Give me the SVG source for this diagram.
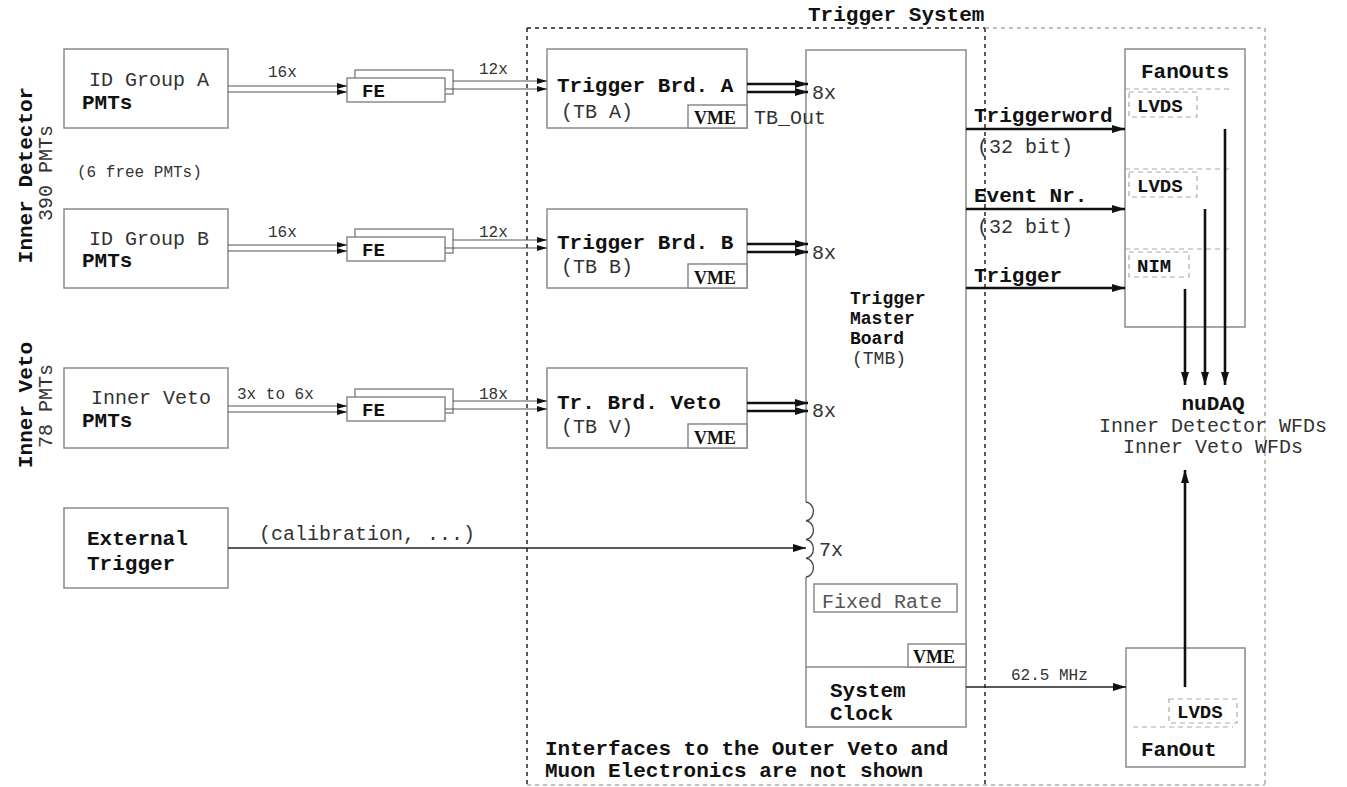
<svg xmlns="http://www.w3.org/2000/svg" width="1347" height="787" viewBox="0 0 1347 787">
<style>
.box{fill:#fff;stroke:#8a8a8a;stroke-width:1.5}
.t{font-family:"Liberation Mono",monospace;font-size:20px;fill:#333}
.b{font-family:"Liberation Mono",monospace;font-size:21px;font-weight:bold;fill:#111}
.s{font-family:"Liberation Mono",monospace;font-size:16px;fill:#333}
.vme{font-family:"Liberation Serif",serif;font-size:18px;font-weight:bold;fill:#111}
.thin{fill:none;stroke:#555;stroke-width:1.2}
.thick{fill:none;stroke:#111;stroke-width:2.6}
.med{fill:none;stroke:#222;stroke-width:1.6}
.dash{fill:none;stroke:#aaa;stroke-width:1.2;stroke-dasharray:5 4}
.dk{fill:none;stroke:#222;stroke-width:1.5;stroke-dasharray:4 4}
.lt{fill:none;stroke:#aaa;stroke-width:1.5;stroke-dasharray:4 4}
.tmb{font-family:"Liberation Mono",monospace;font-size:18px;font-weight:bold;fill:#111}
</style>
<defs>
<marker id="a" viewBox="0 0 10 6" refX="10" refY="3" markerWidth="10" markerHeight="6" markerUnits="userSpaceOnUse" orient="auto"><path d="M0,0 L10,3 L0,6 z" fill="#111"/></marker>
<marker id="k" viewBox="0 0 13 8" refX="13" refY="4" markerWidth="13" markerHeight="8" markerUnits="userSpaceOnUse" orient="auto"><path d="M0,0 L13,4 L0,8 z" fill="#111"/></marker>
</defs>

<g id="trigger-system">
<path class="dk" d="M527,28 H985 M527,28 V785 M985,28 V785"/>
<path class="lt" d="M985,28 H1265 V785 M527,785 H1265"/>
<text class="b" x="808" y="21">Trigger System</text>
<text class="b" x="545" y="755">Interfaces to the Outer Veto and</text>
<text class="b" x="545" y="777">Muon Electronics are not shown</text>
</g>

<g id="labels-left">
<text class="b" transform="translate(32,175) rotate(-90)" text-anchor="middle">Inner Detector</text>
<text class="t" transform="translate(52,173) rotate(-90)" text-anchor="middle">390 PMTs</text>
<text class="b" transform="translate(32,405) rotate(-90)" text-anchor="middle">Inner Veto</text>
<text class="t" transform="translate(52,406) rotate(-90)" text-anchor="middle">78 PMTs</text>
<text class="s" x="77" y="177">(6 free PMTs)</text>
</g>

<g id="tmb">
<rect x="806" y="50" width="160" height="677" fill="#fff"/>
<path class="box" d="M806,502 V50 H966 V727 H806 V577 M806,667 H966"/>
<path fill="none" stroke="#444" stroke-width="1.3" d="M806,502 a8,9.4 0 0 1 0,18.75 a8,9.4 0 0 1 0,18.75 a8,9.4 0 0 1 0,18.75 a8,9.4 0 0 1 0,18.75"/>
<text class="tmb" x="850" y="304">Trigger</text>
<text class="tmb" x="850" y="324">Master</text>
<text class="tmb" x="850" y="344">Board</text>
<text class="t" x="852" y="364" style="font-size:18px">(TMB)</text>
<text class="t" x="812" y="99">8x</text>
<text class="t" x="812" y="259">8x</text>
<text class="t" x="812" y="417">8x</text>
<text class="t" x="819" y="556">7x</text>
<rect class="box" x="814" y="584" width="143" height="28"/>
<text class="t" x="822" y="608" style="fill:#555">Fixed Rate</text>
<rect class="box" x="908" y="644" width="58" height="23"/>
<text class="vme" x="913" y="663">VME</text>
<text class="b" x="830" y="697">System</text>
<text class="b" x="830" y="720">Clock</text>
</g>

<g id="id-group-a">
<rect class="box" x="64" y="49" width="164" height="79"/>
<text class="t" x="89" y="86">ID Group A</text>
<text class="b" x="82" y="109">PMTs</text>
</g>
<g id="id-group-b">
<rect class="box" x="64" y="209" width="164" height="79"/>
<text class="t" x="89" y="245">ID Group B</text>
<text class="b" x="82" y="267">PMTs</text>
</g>
<g id="inner-veto">
<rect class="box" x="64" y="368" width="164" height="80"/>
<text class="t" x="91" y="404">Inner Veto</text>
<text class="b" x="82" y="427">PMTs</text>
</g>
<g id="external-trigger">
<rect class="box" x="64" y="508" width="164" height="80"/>
<text class="b" x="87" y="545">External</text>
<text class="b" x="87" y="570">Trigger</text>
</g>

<g id="fe-a">
<rect class="box" x="355" y="70" width="98" height="24"/>
<rect class="box" x="347" y="78" width="98" height="24"/>
<text class="b" x="362" y="97" style="font-size:19px">FE</text>
</g>
<g id="fe-b">
<rect class="box" x="355" y="229" width="98" height="24"/>
<rect class="box" x="347" y="237" width="98" height="24"/>
<text class="b" x="362" y="256" style="font-size:19px">FE</text>
</g>
<g id="fe-v">
<rect class="box" x="355" y="389" width="98" height="24"/>
<rect class="box" x="347" y="397" width="98" height="24"/>
<text class="b" x="362" y="416" style="font-size:19px">FE</text>
</g>

<g id="tb-a">
<rect class="box" x="547" y="49" width="200" height="79"/>
<text class="b" x="557" y="92">Trigger Brd. A</text>
<text class="t" x="561" y="118">(TB A)</text>
<rect class="box" x="688" y="105" width="59" height="23"/>
<text class="vme" x="694" y="124">VME</text>
<text class="t" x="754" y="124">TB_Out</text>
</g>
<g id="tb-b">
<rect class="box" x="547" y="209" width="200" height="79"/>
<text class="b" x="557" y="249">Trigger Brd. B</text>
<text class="t" x="561" y="273">(TB B)</text>
<rect class="box" x="688" y="264" width="59" height="24"/>
<text class="vme" x="694" y="284">VME</text>
</g>
<g id="tb-v">
<rect class="box" x="547" y="368" width="200" height="80"/>
<text class="b" x="557" y="409">Tr. Brd. Veto</text>
<text class="t" x="561" y="433">(TB V)</text>
<rect class="box" x="688" y="424" width="59" height="24"/>
<text class="vme" x="694" y="444">VME</text>
</g>

<g id="fanouts">
<rect class="box" x="1125" y="49" width="120" height="278"/>
<text class="b" x="1141" y="78">FanOuts</text>
<path class="dash" d="M1125,89 H1233 M1125,169 H1233 M1125,249 H1233"/>
<rect class="dash" x="1129" y="92" width="68" height="25"/>
<text class="b" x="1137" y="112" style="font-size:19px">LVDS</text>
<rect class="dash" x="1129" y="172" width="68" height="25"/>
<text class="b" x="1137" y="192" style="font-size:19px">LVDS</text>
<rect class="dash" x="1129" y="252" width="60" height="25"/>
<text class="b" x="1137" y="272" style="font-size:19px">NIM</text>
</g>

<g id="fanout">
<rect class="box" x="1126" y="648" width="119" height="119"/>
<rect class="dash" x="1169" y="699" width="68" height="24"/>
<text class="b" x="1177" y="718" style="font-size:19px">LVDS</text>
<path class="dash" d="M1133,727 H1233"/>
<text class="b" x="1141" y="756">FanOut</text>
</g>

<g id="nudaq">
<text class="b" x="1213" y="410" text-anchor="middle">nuDAQ</text>
<text class="t" x="1213" y="432" text-anchor="middle">Inner Detector WFDs</text>
<text class="t" x="1213" y="453" text-anchor="middle">Inner Veto WFDs</text>
</g>

<g id="connectors">
<path class="thin" marker-end="url(#a)" d="M228,86 H347"/>
<path class="thin" marker-end="url(#a)" d="M228,92 H347"/>
<path class="thin" marker-end="url(#a)" d="M453,81 H547"/>
<path class="thin" marker-end="url(#a)" d="M445,89 H547"/>
<text class="s" x="268" y="77">16x</text>
<text class="s" x="479" y="74">12x</text>

<path class="thin" marker-end="url(#a)" d="M228,245 H347"/>
<path class="thin" marker-end="url(#a)" d="M228,251 H347"/>
<path class="thin" marker-end="url(#a)" d="M453,240 H547"/>
<path class="thin" marker-end="url(#a)" d="M445,248 H547"/>
<text class="s" x="268" y="237">16x</text>
<text class="s" x="479" y="237">12x</text>

<path class="thin" marker-end="url(#a)" d="M228,406 H347"/>
<path class="thin" marker-end="url(#a)" d="M228,412 H347"/>
<path class="thin" marker-end="url(#a)" d="M453,401 H547"/>
<path class="thin" marker-end="url(#a)" d="M445,409 H547"/>
<text class="s" x="237" y="399">3x to 6x</text>
<text class="s" x="479" y="399">18x</text>

<path class="thick" marker-end="url(#k)" d="M747,84 H808"/>
<path class="thick" marker-end="url(#k)" d="M747,92 H808"/>
<path class="thick" marker-end="url(#k)" d="M747,244 H808"/>
<path class="thick" marker-end="url(#k)" d="M747,252 H808"/>
<path class="thick" marker-end="url(#k)" d="M747,403 H808"/>
<path class="thick" marker-end="url(#k)" d="M747,411 H808"/>

<path class="med" marker-end="url(#k)" d="M228,548 H806"/>
<text class="t" x="259" y="540">(calibration, ...)</text>

<path class="thick" marker-end="url(#k)" d="M966,129 H1125"/>
<text class="b" x="974" y="122">Triggerword</text>
<text class="t" x="977" y="153">(32 bit)</text>
<path class="thick" marker-end="url(#k)" d="M966,209 H1125"/>
<text class="b" x="974" y="202">Event Nr.</text>
<text class="t" x="977" y="233">(32 bit)</text>
<path class="thick" marker-end="url(#k)" d="M966,288 H1125"/>
<text class="b" x="974" y="282">Trigger</text>

<path class="thick" marker-end="url(#k)" d="M1225,129 V385"/>
<path class="thick" marker-end="url(#k)" d="M1205,209 V385"/>
<path class="thick" marker-end="url(#k)" d="M1185,289 V385"/>

<path class="thick" marker-end="url(#k)" d="M1185,687 V470"/>
<path class="med" marker-end="url(#k)" d="M966,687 H1126"/>
<text class="s" x="1011" y="680">62.5 MHz</text>
</g>
</svg>
